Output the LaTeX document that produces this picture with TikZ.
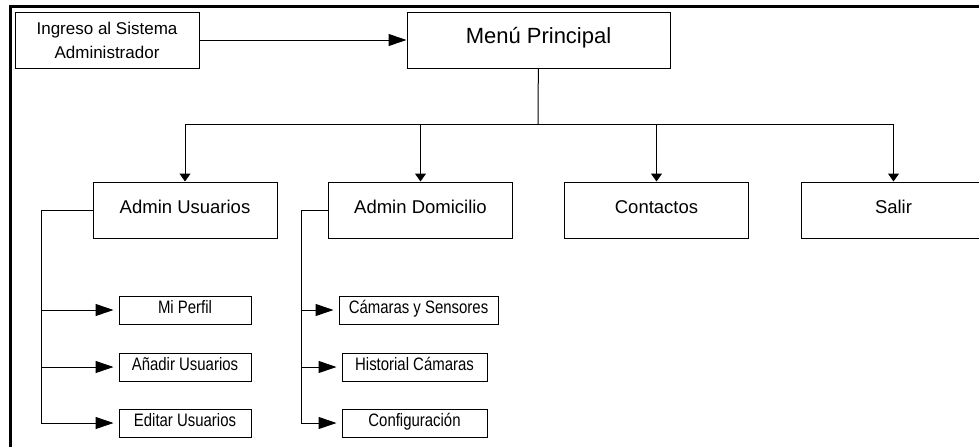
\documentclass[tikz,border=0pt]{standalone}
\usepackage{fontspec}
\setmainfont{Liberation Sans}
\newfontfamily\narrowfont[FakeStretch=0.83]{Liberation Sans}
\usetikzlibrary{positioning,arrows.meta}

\begin{document}
\begin{tikzpicture}[x=1pt, y=-1pt, line width=1pt,
                      every node/.style = {shape=rectangle, draw,
                        align=center, inner sep=0pt},
                      mainbox/.style = {minimum width=184pt, minimum height=56pt,
                        text height=0.72em, text depth=0pt,
                        font=\fontsize{18.5}{22}\selectfont},
                      subbox/.style = {minimum width=132pt, minimum height=28pt,
                        text height=0.72em, text depth=0pt,
                        font=\narrowfont\fontsize{18}{21}\selectfont},
                      link/.style = {-{Triangle[length=18pt,width=12pt]}},
                      sublink/.style = {link, shorten >=5pt},
                      down/.style = {-{Triangle[length=8pt,width=11pt]}}]
  \useasboundingbox (0,0) rectangle (979,447);
  \clip (0,0) rectangle (979,447);
  \draw[line width=3pt] (10.8,447) -- (10.8,6) -- (979,6);

  \node (ingreso) at (107,40) [minimum width=184pt, minimum height=56pt,
    font=\fontsize{17}{24}\selectfont] {Ingreso al Sistema\\Administrador};
  \node (menu) at (538.5,40) [minimum width=263pt, minimum height=56pt,
    text height=0.72em, text depth=0pt,
    font=\fontsize{22}{26}\selectfont] {Menú Principal};

  \node[mainbox] (usuarios) at (185,210) {Admin Usuarios};
  \node[mainbox] (domicilio) at (420.5,210) {Admin Domicilio};
  \node[mainbox] (contactos) at (656.5,210) {Contactos};
  \node[mainbox] (salir) at (893.5,210) {Salir};

  \node[subbox] (perfil) at (185,310) {Mi Perfil};
  \node[subbox] (anadir) at (185,367) {Añadir Usuarios};
  \node[subbox] (editar) at (185,423) {Editar Usuarios};
  \node[subbox, minimum width=159pt] (camaras) at (418.5,310) {Cámaras y Sensores};
  \node[subbox, minimum width=145pt] (historial) at (414.5,367) {Historial Cámaras};
  \node[subbox, minimum width=145pt] (config) at (414.5,423) {Configuración};

  \draw[link] (ingreso) -- (menu);
  \coordinate (bus) at (538,124);
  \draw (menu) -- (bus);
  \foreach \n in {usuarios,domicilio,contactos,salir}
    \draw[down] (bus) -| (\n);

  \coordinate (ubar) at (41,210);
  \draw (usuarios) -- (ubar) -- (ubar |- editar);
  \foreach \n in {perfil,anadir,editar}
    \draw[sublink] (ubar |- \n) -- (\n);

  \coordinate (dbar) at (301,210);
  \draw[sublink] (domicilio) -- (dbar) |- (config);
  \foreach \n in {camaras,historial}
    \draw[sublink] (dbar |- \n) -- (\n);
\end{tikzpicture}
\end{document}
